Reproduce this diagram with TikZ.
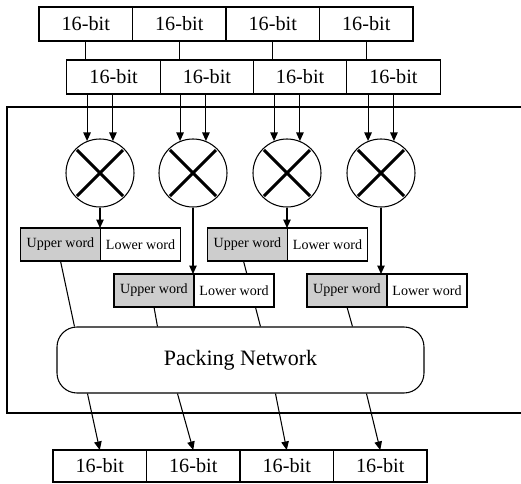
\documentclass[tikz,border=0pt]{standalone}
\usepackage{fontspec}
\setmainfont{Liberation Serif}
\usetikzlibrary{arrows.meta,positioning,calc}
\definecolor{upperFill}{RGB}{205,205,205}
\tikzset{pkpanel/.style={
  reg/.style={draw, line width=0.6pt, minimum width=18.7mm, minimum height=6.8mm, inner sep=0pt, outer sep=0pt, font=\fontsize{11.5}{12}\selectfont},
  mult/.style={circle, draw, line width=0.6pt, minimum size=13.6mm, inner sep=0pt},
  cross/.style={line width=1.7pt, shorten <=0.4mm, shorten >=0.4mm},
  wire/.style={-{Triangle[length=1.7mm, width=1.5mm]}, line width=0.6pt},
  bus/.style={line width=0.6pt},
}}

\begin{document}
\begin{tikzpicture}[pkpanel, x=0.2mm, y=-0.2mm,
  upper/.style={draw, line width=0.6pt, fill=upperFill, minimum width=16mm, minimum height=6.6mm, inner sep=0pt, outer sep=0pt, font=\fontsize{8}{9}\selectfont},
  lower/.style={upper, fill=white},
  net/.style={draw, line width=0.6pt, rounded corners=4mm, minimum width=73.4mm, minimum height=13.2mm, font=\fontsize{12.5}{14}\selectfont},
  frame/.style={line width=0.6pt},
]
\useasboundingbox (0,0) rectangle (521,484);

% ---- input registers ----
\foreach \i/\x in {1/85.75, 2/179.25, 3/272.75, 4/366.25}
  \node[reg] (in\i) at (\x,24) {16-bit};
\foreach \i/\x in {1/113.6, 2/206.9, 3/300.1, 4/393.4}
  \node[reg] (mid\i) at (\x,77) {16-bit};
\foreach \i in {1,...,4}
  \draw[bus] (in\i.south) -- (in\i.south |- mid\i.north);

% ---- datapath frame ----
\draw[frame] (521,107) -- (7,107) -- (7,413) -- (521,413);

% ---- multipliers ----
\foreach \i/\x in {1/100, 2/193, 3/287, 4/381} {
  \node[mult] (m\i) at (\x,173) {};
  \draw[cross] (m\i.45) -- (m\i.225);
  \draw[cross] (m\i.135) -- (m\i.315);
  \draw[wire] (m\i.112 |- mid\i.south) -- (m\i.112);
  \draw[wire] (m\i.68 |- mid\i.south) -- (m\i.68);
}

% ---- packing network ----
\node[net] (pack) at (240.5,360) {Packing Network};

% ---- products, first row ----
\node[upper] (up1) at (60.5,244.5) {Upper word};
\node[lower, right=0pt of up1] (lo1) {Lower word};
\node[upper] (up3) at (247.5,244.5) {Upper word};
\node[lower, right=0pt of up3] (lo3) {Lower word};
\draw[wire] (m1.south) -- (m1.south |- up1.north);
\draw[wire] (m3.south) -- (m3.south |- up3.north);
\draw[bus] (up1.south) -- ($(pack.north west)+(18,0)$);
\draw[bus] ([xshift=-0.8mm]up3.south) -- ($(pack.north west)+(204,0)$);

% ---- products, second row ----
\node[upper] (up2) at (154,290.5) {Upper word};
\node[lower, right=0pt of up2] (lo2) {Lower word};
\node[upper] (up4) at (347,290.5) {Upper word};
\node[lower, right=0pt of up4] (lo4) {Lower word};
\draw[wire] (m2.south) -- (m2.south |- up2.north);
\draw[wire] (m4.south) -- (m4.south |- up4.north);
\draw[bus] (up2.south) -- ($(pack.north west)+(101,0)$);
\draw[bus] (up4.south) -- ($(pack.north west)+(296,0)$);

% ---- output register ----
\foreach \i/\x/\d in {1/99.75/31, 2/193.25/121, 3/286.75/219, 4/380.25/310} {
  \node[reg, minimum height=6.4mm] (out\i) at (\x,466) {16-bit};
  \draw[wire] ($(pack.south west)+(\d,0)$) -- (out\i.north);
}

\end{tikzpicture}
\end{document}
